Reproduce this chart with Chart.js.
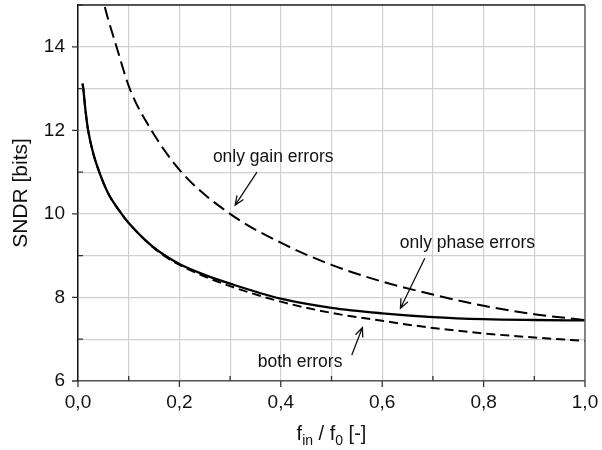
<!DOCTYPE html>
<html>
<head>
<meta charset="utf-8">
<script src="https://cdn.jsdelivr.net/npm/chart.js@4/dist/chart.umd.min.js"></script>
<style>
  html, body { margin: 0; padding: 0; background: #fff; }
  canvas { display: block; }
</style>
</head>
<body>
<canvas id="sndr" width="602" height="450"></canvas>
<script>
// f_in / f_0 sample points
const fx = [0.009, 0.0104, 0.015, 0.02, 0.03, 0.042, 0.06, 0.086, 0.1, 0.132, 0.16, 0.2, 0.25, 0.3, 0.4, 0.5, 0.6, 0.7, 0.8, 0.9, 1.0];
const phaseOnly = [13.12, 13.0, 12.45, 12.0, 11.45, 11.0, 10.48, 10.0, 9.78, 9.38, 9.1, 8.8, 8.54, 8.33, 7.97, 7.75, 7.62, 7.53, 7.48, 7.46, 7.45];
const bothErr   = [13.12, 13.0, 12.45, 12.0, 11.45, 11.0, 10.48, 10.0, 9.78, 9.38, 9.08, 8.78, 8.5, 8.27, 7.9, 7.63, 7.44, 7.27, 7.14, 7.04, 6.96];

const gainX = [0.045, 0.052, 0.076, 0.102, 0.145, 0.204, 0.3, 0.4, 0.5, 0.6, 0.7, 0.8, 0.9, 1.0];
const gainOnly = [15.4, 15.0, 14.0, 13.0, 12.0, 11.0, 10.0, 9.31, 8.78, 8.38, 8.07, 7.8, 7.6, 7.46];

// text labels with arrows, in data units: [text, labelX, labelY, fromX, fromY, toX, toY]
const notes = [
  ['only gain errors', 0.385, 11.36, 0.353, 11.0, 0.310, 10.21],
  ['only phase errors', 0.768, 9.30, 0.684, 8.94, 0.636, 7.74],
  ['both errors', 0.438, 6.45, 0.540, 6.62, 0.561, 7.28]
];

const FONT = '"Liberation Sans", Arial, Helvetica, sans-serif';

const pts = (xs, ys) => xs.map((x, i) => ({ x: x, y: ys[i] }));

const isMajorX = v => Math.round(v * 10) % 2 === 0;
const isMajorY = v => Math.round(v) % 2 === 0;

const frame = {
  id: 'frame',
  afterDraw(chart) {
    const { ctx, chartArea: a, scales: { x, y } } = chart;
    ctx.save();
    // top and right edges
    ctx.lineWidth = 1.5;
    ctx.strokeStyle = '#222';
    ctx.beginPath();
    ctx.moveTo(a.left, a.top); ctx.lineTo(a.right, a.top);
    ctx.stroke();
    ctx.strokeStyle = '#666';
    ctx.beginPath();
    ctx.moveTo(a.right, a.top); ctx.lineTo(a.right, a.bottom);
    ctx.stroke();

    // tick marks: major outside, minor inside
    ctx.strokeStyle = '#333';
    ctx.lineWidth = 1.3;
    ctx.beginPath();
    for (let i = 0; i <= 10; i++) {
      const v = i / 10;
      const px = x.getPixelForValue(v);
      if (isMajorX(v)) { ctx.moveTo(px, a.bottom); ctx.lineTo(px, a.bottom + 6); }
      else { ctx.moveTo(px, a.bottom); ctx.lineTo(px, a.bottom - 5); }
    }
    for (let v = 6; v <= 15; v++) {
      const py = y.getPixelForValue(v);
      if (isMajorY(v)) { ctx.moveTo(a.left, py); ctx.lineTo(a.left - 6, py); }
      else { ctx.moveTo(a.left, py); ctx.lineTo(a.left + 5, py); }
    }
    ctx.stroke();

    // annotations
    ctx.fillStyle = '#111';
    ctx.strokeStyle = '#111';
    ctx.lineWidth = 1.3;
    ctx.font = '17.5px ' + FONT;
    ctx.textAlign = 'center';
    ctx.textBaseline = 'middle';
    notes.forEach(([t, lx, ly, x0, y0, x1, y1]) => {
      ctx.fillText(t, x.getPixelForValue(lx), y.getPixelForValue(ly));
      const ax = x.getPixelForValue(x0), ay = y.getPixelForValue(y0);
      const bx = x.getPixelForValue(x1), by = y.getPixelForValue(y1);
      const ang = Math.atan2(by - ay, bx - ax);
      ctx.beginPath();
      ctx.moveTo(ax, ay); ctx.lineTo(bx, by);
      ctx.moveTo(bx - 10 * Math.cos(ang - 0.4), by - 10 * Math.sin(ang - 0.4));
      ctx.lineTo(bx, by);
      ctx.lineTo(bx - 10 * Math.cos(ang + 0.4), by - 10 * Math.sin(ang + 0.4));
      ctx.stroke();
    });

    // x axis title with subscripts
    const cx = (a.left + a.right) / 2, base = 440;
    const parts = [['f', 20, 0], ['in', 14, 5], [' / f', 20, 0], ['0', 14, 5], [' [-]', 20, 0]];
    let w = 0;
    parts.forEach(p => { ctx.font = p[1] + 'px ' + FONT; w += ctx.measureText(p[0]).width; });
    let px = cx - w / 2;
    ctx.textAlign = 'left';
    ctx.textBaseline = 'alphabetic';
    parts.forEach(p => {
      ctx.font = p[1] + 'px ' + FONT;
      ctx.fillText(p[0], px, base + p[2]);
      px += ctx.measureText(p[0]).width;
    });
    ctx.restore();
  }
};

new Chart(document.getElementById('sndr').getContext('2d'), {
  type: 'line',
  data: {
    datasets: [
      {
        label: 'only gain errors',
        data: pts(gainX, gainOnly),
        borderColor: '#000',
        borderWidth: 2,
        borderDash: [13, 6],
        pointRadius: 0,
        cubicInterpolationMode: 'monotone'
      },
      {
        label: 'both errors',
        data: pts(fx, bothErr),
        borderColor: '#000',
        borderWidth: 2,
        borderDash: [9, 5],
        pointRadius: 0,
        cubicInterpolationMode: 'monotone'
      },
      {
        label: 'only phase errors',
        data: pts(fx, phaseOnly),
        borderColor: '#000',
        borderWidth: 2.3,
        pointRadius: 0,
        cubicInterpolationMode: 'monotone'
      }
    ]
  },
  options: {
    responsive: false,
    animation: false,
    layout: { padding: { top: 5, right: 17, left: 0, bottom: 0 } },
    plugins: {
      legend: { display: false },
      tooltip: { enabled: false }
    },
    scales: {
      x: {
        type: 'linear',
        min: 0,
        max: 1,
        afterFit(scale) {
          scale.height = 69;
          scale.paddingLeft = 0;
          scale.paddingRight = 0;
        },
        grid: { color: '#d0d0d0', lineWidth: 1.2, drawTicks: false },
        border: { color: '#555', width: 1.5 },
        ticks: {
          stepSize: 0.1,
          padding: 10,
          maxRotation: 0,
          autoSkip: false,
          color: '#111',
          font: { family: FONT, size: 19 },
          callback: v => isMajorX(v) ? (Math.round(v * 10) / 10).toFixed(1).replace('.', ',') : ''
        }
      },
      y: {
        min: 6,
        max: 15,
        afterFit(scale) {
          scale.width = 78;
          scale.paddingTop = 0;
          scale.paddingBottom = 0;
        },
        grid: { color: '#d0d0d0', lineWidth: 1.2, drawTicks: false },
        border: { color: '#111', width: 1.5 },
        title: {
          display: true,
          text: 'SNDR [bits]',
          color: '#111',
          font: { family: FONT, size: 21 },
          padding: { top: 9, bottom: 0 }
        },
        ticks: {
          stepSize: 1,
          padding: 13,
          autoSkip: false,
          color: '#111',
          font: { family: FONT, size: 19 },
          callback: v => isMajorY(v) ? String(v) : ''
        }
      }
    }
  },
  plugins: [frame]
});
</script>
</body>
</html>
